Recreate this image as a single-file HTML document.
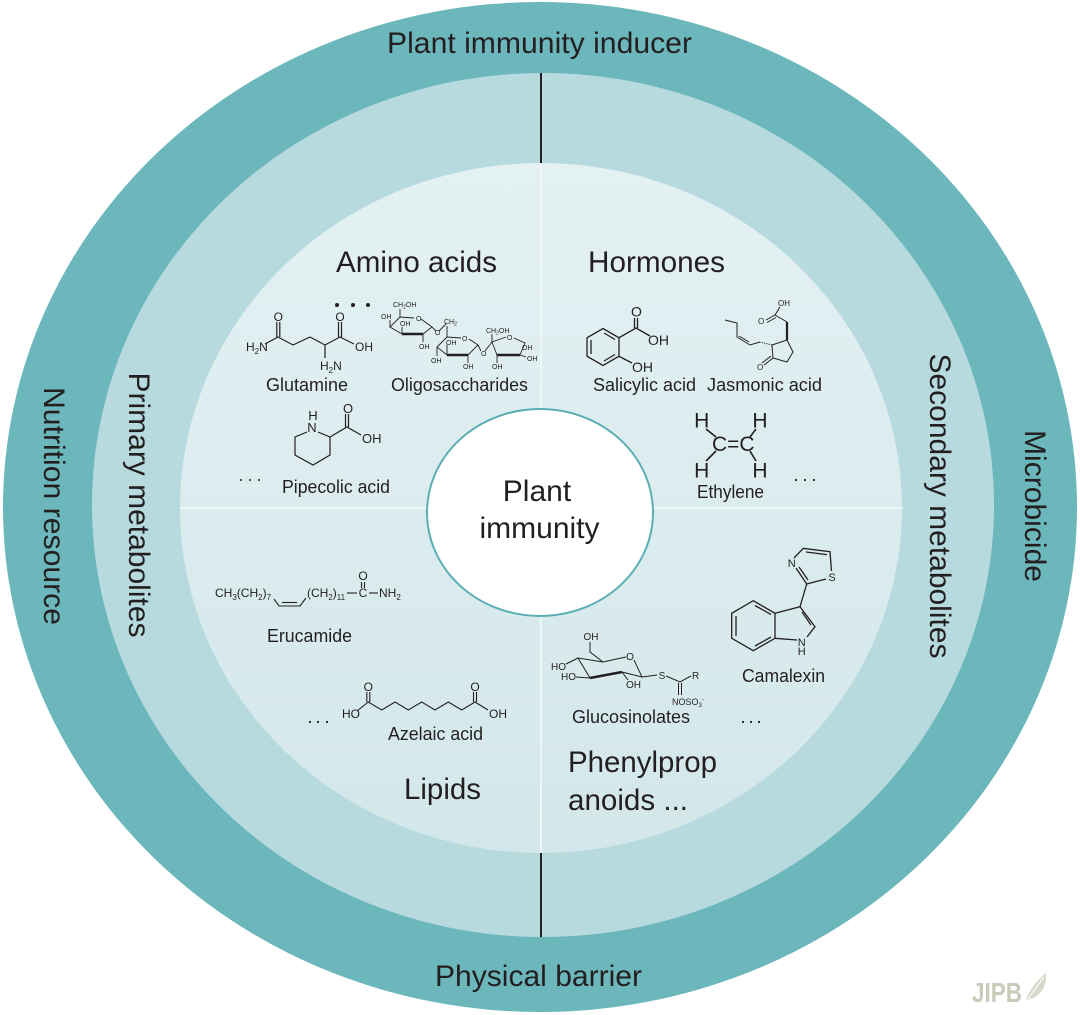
<!DOCTYPE html>
<html><head><meta charset="utf-8"><style>
html,body{margin:0;padding:0;background:#fff;}
svg{display:block;}
text{font-family:"Liberation Sans",Arial,sans-serif;fill:#231f20;}
</style></head><body>
<svg width="1080" height="1015" viewBox="0 0 1080 1015" xmlns="http://www.w3.org/2000/svg">
<defs>
<linearGradient id="ig" x1="0" y1="0" x2="0" y2="1">
<stop offset="0" stop-color="#e4f1f3"/><stop offset="1" stop-color="#d3e7ea"/>
</linearGradient>
</defs>
<rect width="1080" height="1015" fill="#fff"/>
<ellipse cx="540" cy="507" rx="537" ry="505" fill="#6cb7bb"/>
<ellipse cx="543" cy="505" rx="451" ry="432" fill="#b7dadf"/>
<ellipse cx="541" cy="508" rx="361" ry="345" fill="url(#ig)"/>
<line x1="541" y1="163" x2="541" y2="853" stroke="#eef7f8" stroke-width="2"/>
<line x1="180" y1="508" x2="903" y2="508" stroke="#eef7f8" stroke-width="2"/>
<line x1="541" y1="73" x2="541" y2="163" stroke="#222" stroke-width="2"/>
<line x1="541" y1="853" x2="541" y2="937" stroke="#222" stroke-width="2"/>
<ellipse cx="540" cy="512.5" rx="113" ry="103.5" fill="#fff" stroke="#5aaeb3" stroke-width="2"/>

<!-- big labels -->
<text x="387" y="53" font-size="29.5" textLength="305" lengthAdjust="spacingAndGlyphs">Plant immunity inducer</text>
<text x="435" y="986" font-size="29.5" textLength="207" lengthAdjust="spacingAndGlyphs">Physical barrier</text>
<text transform="translate(44,506) rotate(90)" text-anchor="middle" font-size="29.5" textLength="238" lengthAdjust="spacingAndGlyphs">Nutrition resource</text>
<text transform="translate(129,505) rotate(90)" text-anchor="middle" font-size="29.5" textLength="265" lengthAdjust="spacingAndGlyphs">Primary metabolites</text>
<text transform="translate(930,506) rotate(90)" text-anchor="middle" font-size="29.5" textLength="305" lengthAdjust="spacingAndGlyphs">Secondary metabolites</text>
<text transform="translate(1025,506) rotate(90)" text-anchor="middle" font-size="29.5" textLength="152" lengthAdjust="spacingAndGlyphs">Microbicide</text>

<text x="336" y="272" font-size="29.5" textLength="161" lengthAdjust="spacingAndGlyphs">Amino acids</text>
<text x="588" y="272" font-size="29.5" textLength="137" lengthAdjust="spacingAndGlyphs">Hormones</text>
<text x="404" y="799" font-size="29.5" textLength="77" lengthAdjust="spacingAndGlyphs">Lipids</text>
<text x="568" y="772" font-size="29.5" textLength="149" lengthAdjust="spacingAndGlyphs">Phenylprop</text>
<text x="568" y="810" font-size="29.5" textLength="120" lengthAdjust="spacingAndGlyphs">anoids ...</text>

<text x="537" y="501" font-size="30" text-anchor="middle">Plant</text>
<text x="539.5" y="538" font-size="30" text-anchor="middle">immunity</text>

<!-- small labels -->
<g font-size="18">
<text x="266" y="391" textLength="82" lengthAdjust="spacingAndGlyphs">Glutamine</text>
<text x="391" y="391" textLength="137" lengthAdjust="spacingAndGlyphs">Oligosaccharides</text>
<text x="282" y="493" textLength="108" lengthAdjust="spacingAndGlyphs">Pipecolic acid</text>
<text x="593" y="391" textLength="103" lengthAdjust="spacingAndGlyphs">Salicylic acid</text>
<text x="707" y="391" textLength="115" lengthAdjust="spacingAndGlyphs">Jasmonic acid</text>
<text x="697" y="498" textLength="67" lengthAdjust="spacingAndGlyphs">Ethylene</text>
<text x="267" y="642" textLength="85" lengthAdjust="spacingAndGlyphs">Erucamide</text>
<text x="388" y="740" textLength="95" lengthAdjust="spacingAndGlyphs">Azelaic acid</text>
<text x="572" y="723" textLength="118" lengthAdjust="spacingAndGlyphs">Glucosinolates</text>
<text x="742" y="682" textLength="83" lengthAdjust="spacingAndGlyphs">Camalexin</text>
</g>

<!-- dots -->
<g fill="#231f20">
<circle cx="337" cy="305" r="2"/><circle cx="353" cy="305" r="2"/><circle cx="368" cy="305" r="2"/>
<circle cx="241" cy="480" r="1"/><circle cx="250" cy="480" r="1"/><circle cx="259" cy="480" r="1"/>
<circle cx="796" cy="480" r="1.1"/><circle cx="805" cy="480" r="1.1"/><circle cx="814" cy="480" r="1.1"/>
<circle cx="310" cy="722" r="1.1"/><circle cx="318" cy="722" r="1.1"/><circle cx="327" cy="722" r="1.1"/>
<circle cx="743" cy="722" r="1.1"/><circle cx="751" cy="722" r="1.1"/><circle cx="759" cy="722" r="1.1"/>
</g>

<!-- Glutamine -->
<g stroke="#231f20" stroke-width="1.2" fill="none">
<polyline points="265,344 278,337 293,345 310,337 325,345 340,337 354,344"/>
<line x1="276.8" y1="337" x2="276.8" y2="322"/><line x1="279.8" y1="337" x2="279.8" y2="322"/>
<line x1="338.5" y1="337" x2="338.5" y2="322"/><line x1="341.5" y1="337" x2="341.5" y2="322"/>
<line x1="325" y1="345" x2="325" y2="358"/>
</g>
<g font-size="12">
<text x="246" y="351">H<tspan font-size="8" dy="3">2</tspan><tspan dy="-3">N</tspan></text>
<text x="278.3" y="321" text-anchor="middle">O</text>
<text x="340" y="321" text-anchor="middle">O</text>
<text x="355" y="351">OH</text>
<text x="320" y="370">H<tspan font-size="8" dy="3">2</tspan><tspan dy="-3">N</tspan></text>
</g>

<!-- Oligosaccharides -->
<g stroke="#231f20" stroke-width="0.9" fill="none">
<polyline points="402,334 390,327 400,317 414,318"/>
<polyline points="421,319 432,327 423,334"/>
<line x1="402" y1="334" x2="423" y2="334" stroke-width="2.6"/>
<line x1="400" y1="317" x2="400" y2="309"/>
<line x1="390" y1="327" x2="390" y2="320"/>
<line x1="402" y1="334" x2="402" y2="327"/>
<line x1="423" y1="334" x2="423" y2="342"/>
<polyline points="432,327 436,331"/>
<polyline points="439,331 446,324"/>
<line x1="447" y1="326" x2="447" y2="337"/>
<polyline points="447,355 437,347 447,337 461,338"/>
<polyline points="469,339 478,345 468,355"/>
<line x1="447" y1="355" x2="468" y2="355" stroke-width="2.6"/>
<line x1="437" y1="347" x2="437" y2="356"/>
<line x1="447" y1="355" x2="447" y2="345"/>
<line x1="468" y1="355" x2="468" y2="363"/>
<polyline points="478,345 481,351"/>
<polyline points="485,351 492,342"/>
<polyline points="497,355 492,342 506,337"/>
<polyline points="514,338 525,343 520,355"/>
<line x1="497" y1="355" x2="520" y2="355" stroke-width="2.6"/>
<line x1="492" y1="342" x2="492" y2="334"/>
<line x1="497" y1="355" x2="497" y2="363"/>
<line x1="520" y1="355" x2="526" y2="357"/>
</g>
<g font-size="7">
<text x="393" y="307">CH<tspan font-size="5" dy="1.5">2</tspan><tspan dy="-1.5">OH</tspan></text>
<text x="381" y="319">OH</text>
<text x="400" y="326">OH</text>
<text x="416" y="321">O</text>
<text x="419" y="349">OH</text>
<text x="435" y="335">O</text>
<text x="444" y="324">CH<tspan font-size="5" dy="1.5">2</tspan></text>
<text x="462" y="341">O</text>
<text x="446" y="345">OH</text>
<text x="431" y="363">OH</text>
<text x="463" y="369">OH</text>
<text x="481" y="356">O</text>
<text x="486" y="333">CH<tspan font-size="5" dy="1.5">2</tspan><tspan dy="-1.5">OH</tspan></text>
<text x="507" y="340">O</text>
<text x="522" y="350">OH</text>
<text x="527" y="361">OH</text>
<text x="492" y="369">OH</text>
</g>

<!-- Pipecolic acid -->
<g stroke="#231f20" stroke-width="1.2" fill="none">
<polyline points="307,432 295,437 295,455 313,465 330,455 330,437 318,432"/>
<polyline points="330,437 347,427 361,435"/>
<line x1="345.5" y1="427" x2="345.5" y2="414"/><line x1="348.5" y1="427" x2="348.5" y2="414"/>
</g>
<g font-size="13">
<text x="313" y="420" text-anchor="middle">H</text>
<text x="312" y="432" text-anchor="middle">N</text>
<text x="348" y="413" text-anchor="middle">O</text>
<text x="362" y="443">OH</text>
</g>

<!-- Salicylic acid -->
<g stroke="#231f20" stroke-width="1.3" fill="none">
<polygon points="603,328.5 619,337.75 619,356.25 603,365.5 587,356.25 587,337.75"/>
<line x1="591" y1="340" x2="591" y2="354"/>
<line x1="604" y1="333" x2="615" y2="339.5"/>
<line x1="604" y1="361" x2="615" y2="354.5"/>
<polyline points="619,337.75 636,328 650,336"/>
<line x1="634.5" y1="328" x2="634.5" y2="318"/><line x1="637.5" y1="328" x2="637.5" y2="318"/>
<line x1="619" y1="356.25" x2="632" y2="363"/>
</g>
<g font-size="14">
<text x="636.5" y="316.5" text-anchor="middle">O</text>
<text x="648" y="345">OH</text>
<text x="632" y="372">OH</text>
</g>

<!-- Jasmonic acid -->
<g stroke="#231f20" stroke-width="1" fill="none">
<polygon points="772,345 787,340 793,352 787,362 773,358"/>
<line x1="773" y1="358" x2="764" y2="365"/><line x1="771" y1="356" x2="762" y2="363"/>
<line x1="787" y1="340" x2="787" y2="322" stroke-width="2.2"/>
<polyline points="787,322 775,315 780,307"/>
<line x1="775" y1="315" x2="766" y2="320"/><line x1="776" y1="317.5" x2="767" y2="322.5"/>
<line x1="772" y1="345" x2="760" y2="342" stroke-dasharray="1.2,1.2"/>
<polyline points="760,342 750,345 737,337 737,323 725,320"/>
<line x1="749" y1="342" x2="739" y2="336"/>
</g>
<g font-size="8">
<text x="778" y="306">OH</text>
<text x="758" y="324">O</text>
<text x="757" y="370">O</text>
</g>

<!-- Ethylene -->
<g stroke="#231f20" stroke-width="1.6" fill="none">
<line x1="706" y1="429" x2="716" y2="437"/>
<line x1="756" y1="429" x2="750" y2="437"/>
<line x1="716" y1="451" x2="706" y2="461"/>
<line x1="750" y1="451" x2="756" y2="461"/>
</g>
<g font-size="21">
<text x="701.7" y="427.5" text-anchor="middle">H</text>
<text x="760" y="427.5" text-anchor="middle">H</text>
<text x="733.3" y="451" text-anchor="middle">C=C</text>
<text x="701.7" y="477.5" text-anchor="middle">H</text>
<text x="760" y="477.5" text-anchor="middle">H</text>
</g>

<!-- Erucamide -->
<g font-size="12">
<text x="215" y="597">CH<tspan font-size="8" dy="3">3</tspan><tspan dy="-3">(CH</tspan><tspan font-size="8" dy="3">2</tspan><tspan dy="-3">)</tspan><tspan font-size="8" dy="3">7</tspan></text>
<text x="307" y="597">(CH<tspan font-size="8" dy="3">2</tspan><tspan dy="-3">)</tspan><tspan font-size="8" dy="3">11</tspan></text>
<text x="363" y="597" text-anchor="middle">C</text>
<text x="363" y="580" text-anchor="middle">O</text>
<text x="379" y="597">NH<tspan font-size="8" dy="3">2</tspan></text>
</g>
<g stroke="#231f20" stroke-width="1.1" fill="none">
<polyline points="274,599 279,606 300,606 306,598"/>
<line x1="282" y1="602.5" x2="297" y2="602.5"/>
<line x1="347" y1="593" x2="357" y2="593"/>
<line x1="369" y1="593" x2="378" y2="593"/>
<line x1="361.5" y1="582" x2="361.5" y2="588"/><line x1="364.5" y1="582" x2="364.5" y2="588"/>
</g>

<!-- Azelaic acid -->
<g stroke="#231f20" stroke-width="1.1" fill="none">
<polyline points="357,711 368.3,702 381.7,710 395,702 408.3,710 421.7,702 435,710 448.3,702 461.7,710 475,702 488,710"/>
<line x1="366.8" y1="702" x2="366.8" y2="692"/><line x1="369.8" y1="702" x2="369.8" y2="692"/>
<line x1="473.5" y1="702" x2="473.5" y2="692"/><line x1="476.5" y1="702" x2="476.5" y2="692"/>
</g>
<g font-size="12">
<text x="342" y="718">HO</text>
<text x="368.3" y="691" text-anchor="middle">O</text>
<text x="475" y="691" text-anchor="middle">O</text>
<text x="489" y="718">OH</text>
</g>

<!-- Glucosinolates -->
<g stroke="#231f20" stroke-width="1" fill="none">
<polyline points="590,678 578,658 603,662 626,657"/>
<polyline points="634,660 642,677 622,672"/>
<line x1="590" y1="678" x2="622" y2="672" stroke-width="2.6"/>
<polyline points="603,662 590,652 590,642"/>
<line x1="566" y1="664" x2="578" y2="658"/>
<line x1="576" y1="677" x2="590" y2="678"/>
<line x1="622" y1="672" x2="628" y2="680"/>
<line x1="642" y1="677" x2="657" y2="675"/>
<polyline points="666,676 680,682 691,676"/>
<line x1="678.5" y1="683" x2="678.5" y2="695"/><line x1="681.5" y1="683" x2="681.5" y2="695"/>
</g>
<g font-size="10">
<text x="591" y="640" text-anchor="middle">OH</text>
<text x="630" y="660" text-anchor="middle">O</text>
<text x="551" y="670">HO</text>
<text x="561" y="680">HO</text>
<text x="626" y="688">OH</text>
<text x="662" y="679" text-anchor="middle">S</text>
<text x="692" y="679">R</text>
<text x="672" y="705" font-size="9">NOSO<tspan font-size="6" dy="2">3</tspan><tspan font-size="6" dy="-6">-</tspan></text>
</g>

<!-- Camalexin -->
<g stroke="#231f20" stroke-width="1.3" fill="none">
<polygon points="753.3,600.7 775,613.3 775,638.3 753.3,650.7 731.7,638.3 731.7,613.3"/>
<line x1="736" y1="616" x2="736" y2="636"/>
<line x1="755" y1="605.5" x2="771" y2="614.5"/>
<line x1="755" y1="646" x2="771" y2="637"/>
<polyline points="775,613.3 800,606.7 815,626.7 807,637"/>
<line x1="797" y1="640" x2="775" y2="638.3"/>
<line x1="802" y1="612" x2="811" y2="625"/>
<line x1="800" y1="606.7" x2="806.7" y2="584"/>
<polyline points="806.7,584 796,568"/>
<line x1="804" y1="580" x2="795" y2="567" transform="translate(4,0)"/>
<polyline points="794,558 803.3,548.3 830,551.7 831.5,571"/>
<line x1="806" y1="552" x2="827" y2="554.6"/>
<line x1="826" y1="579" x2="806.7" y2="584"/>
</g>
<g font-size="11">
<text x="791.7" y="567" text-anchor="middle">N</text>
<text x="832" y="581" text-anchor="middle">S</text>
<text x="801.7" y="646" text-anchor="middle">N</text>
<text x="801.7" y="655" text-anchor="middle">H</text>
</g>

<!-- JIPB logo -->
<text x="972" y="1002" font-size="28" font-weight="bold" fill="#c8cbb9" style="fill:#c8cbb9" textLength="50" lengthAdjust="spacingAndGlyphs">JIPB</text>
<path d="M1026,1000 C1030,988 1038,980 1046,973 C1047,985 1042,995 1030,999 Z" fill="#d6d9c9"/>
<path d="M1028,999 C1034,990 1039,984 1044,977" stroke="#fff" stroke-width="1" fill="none"/>
</svg>
</body></html>
